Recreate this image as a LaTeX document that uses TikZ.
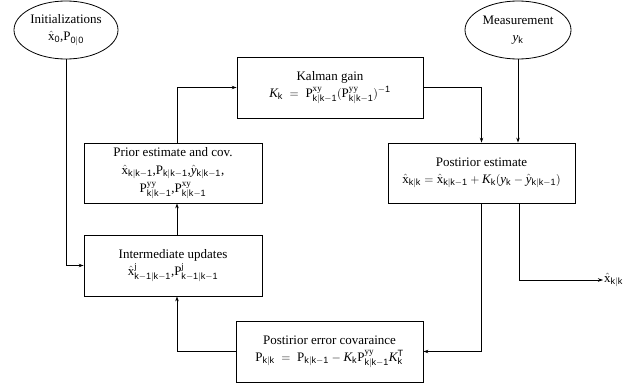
\documentclass[tikz,border=0pt]{standalone}
\usepackage{fontspec}
\setmainfont{Liberation Serif}
\setsansfont{Liberation Sans}
\usetikzlibrary{shapes.geometric,arrows.meta}
\newcommand\sbs[1]{\mathsf{#1}}
\newcommand\xh{\hat{\mathrm{x}}}
\begin{document}
\begin{tikzpicture}[x=1pt,y=-1pt,
  every node/.style={font=\fontsize{13}{17}\selectfont, align=center, inner sep=1pt},
  ell/.style={draw, ellipse, line width=0.8pt},
  boxn/.style={draw, rectangle, line width=0.8pt},
  arr/.style={line width=0.8pt, -{Stealth[length=5pt,width=3.5pt]}}]
\useasboundingbox (0,0) rectangle (644,383);
\node[ell, minimum width=104pt, minimum height=58pt] (init) at (66,30) {Initializations\\ $\xh_{\sbs{0}}$,P$_{\sbs{0|0}}$};
\node[ell, minimum width=106pt, minimum height=58pt] (meas) at (518,30) {Measurement\\ $\mathit{y}_{\sbs{k}}$};
\node[boxn, minimum width=186pt, minimum height=61pt] (kal) at (330,87.5) {Kalman gain\\ $\mathit{K}_{\sbs{k}} \;=\; \mathrm{P}^{\mathrm{xy}}_{\sbs{k|k-1}}(\mathrm{P}^{\mathrm{yy}}_{\sbs{k|k-1}})^{\sbs{-1}}$};
\node[boxn, minimum width=178pt, minimum height=60pt, font=\fontsize{13}{18}\selectfont] (prior) at (173,173) {Prior estimate and cov.\\ $\xh_{\sbs{k|k-1}}$,P$_{\sbs{k|k-1}}$,$\hat{\mathit{y}}_{\sbs{k|k-1}}$,\\ P$^{\mathrm{yy}}_{\sbs{k|k-1}}$,P$^{\mathrm{xy}}_{\sbs{k|k-1}}$};
\node[boxn, minimum width=178pt, minimum height=61pt] (inter) at (173,265.5) {Intermediate updates\\ $\xh^{\mathrm{j}}_{\sbs{k-1|k-1}}$,P$^{\mathrm{j}}_{\sbs{k-1|k-1}}$};
\node[boxn, minimum width=187pt, minimum height=60pt] (post) at (481.5,173) {Postirior estimate\\ $\xh_{\sbs{k|k}} = \xh_{\sbs{k|k-1}} + \mathit{K}_{\sbs{k}}(\mathit{y}_{\sbs{k}} - \hat{\mathit{y}}_{\sbs{k|k-1}})$};
\node[boxn, minimum width=187pt, minimum height=61pt] (cov) at (329.5,351.5) {Postirior error covaraince\\ $\mathrm{P}_{\sbs{k|k}} \;=\; \mathrm{P}_{\sbs{k|k-1}} - \mathit{K}_{\sbs{k}}\mathrm{P}^{\mathrm{yy}}_{\sbs{k|k-1}}\mathit{K}^{\sbs{T}}_{\sbs{k}}$};
\node[anchor=west] (xout) at (603,280) {$\xh_{\sbs{k|k}}$};
\draw[arr] (init.south) |- (inter.west);
\draw[arr] ([xshift=4pt]inter.north) -- ([xshift=4pt]prior.south);
\draw[arr] ([xshift=4pt]prior.north) |- (kal.west);
\draw[arr] (kal.east) -| (post.north);
\draw[arr] (meas.south) -- (meas.south |- post.north);
\draw[arr] (post.south) |- (cov.east);
\draw[arr] ([xshift=38pt]post.south) |- (xout.west);
\draw[arr] (cov.west) -| ([xshift=4pt]inter.south);
\end{tikzpicture}
\end{document}
